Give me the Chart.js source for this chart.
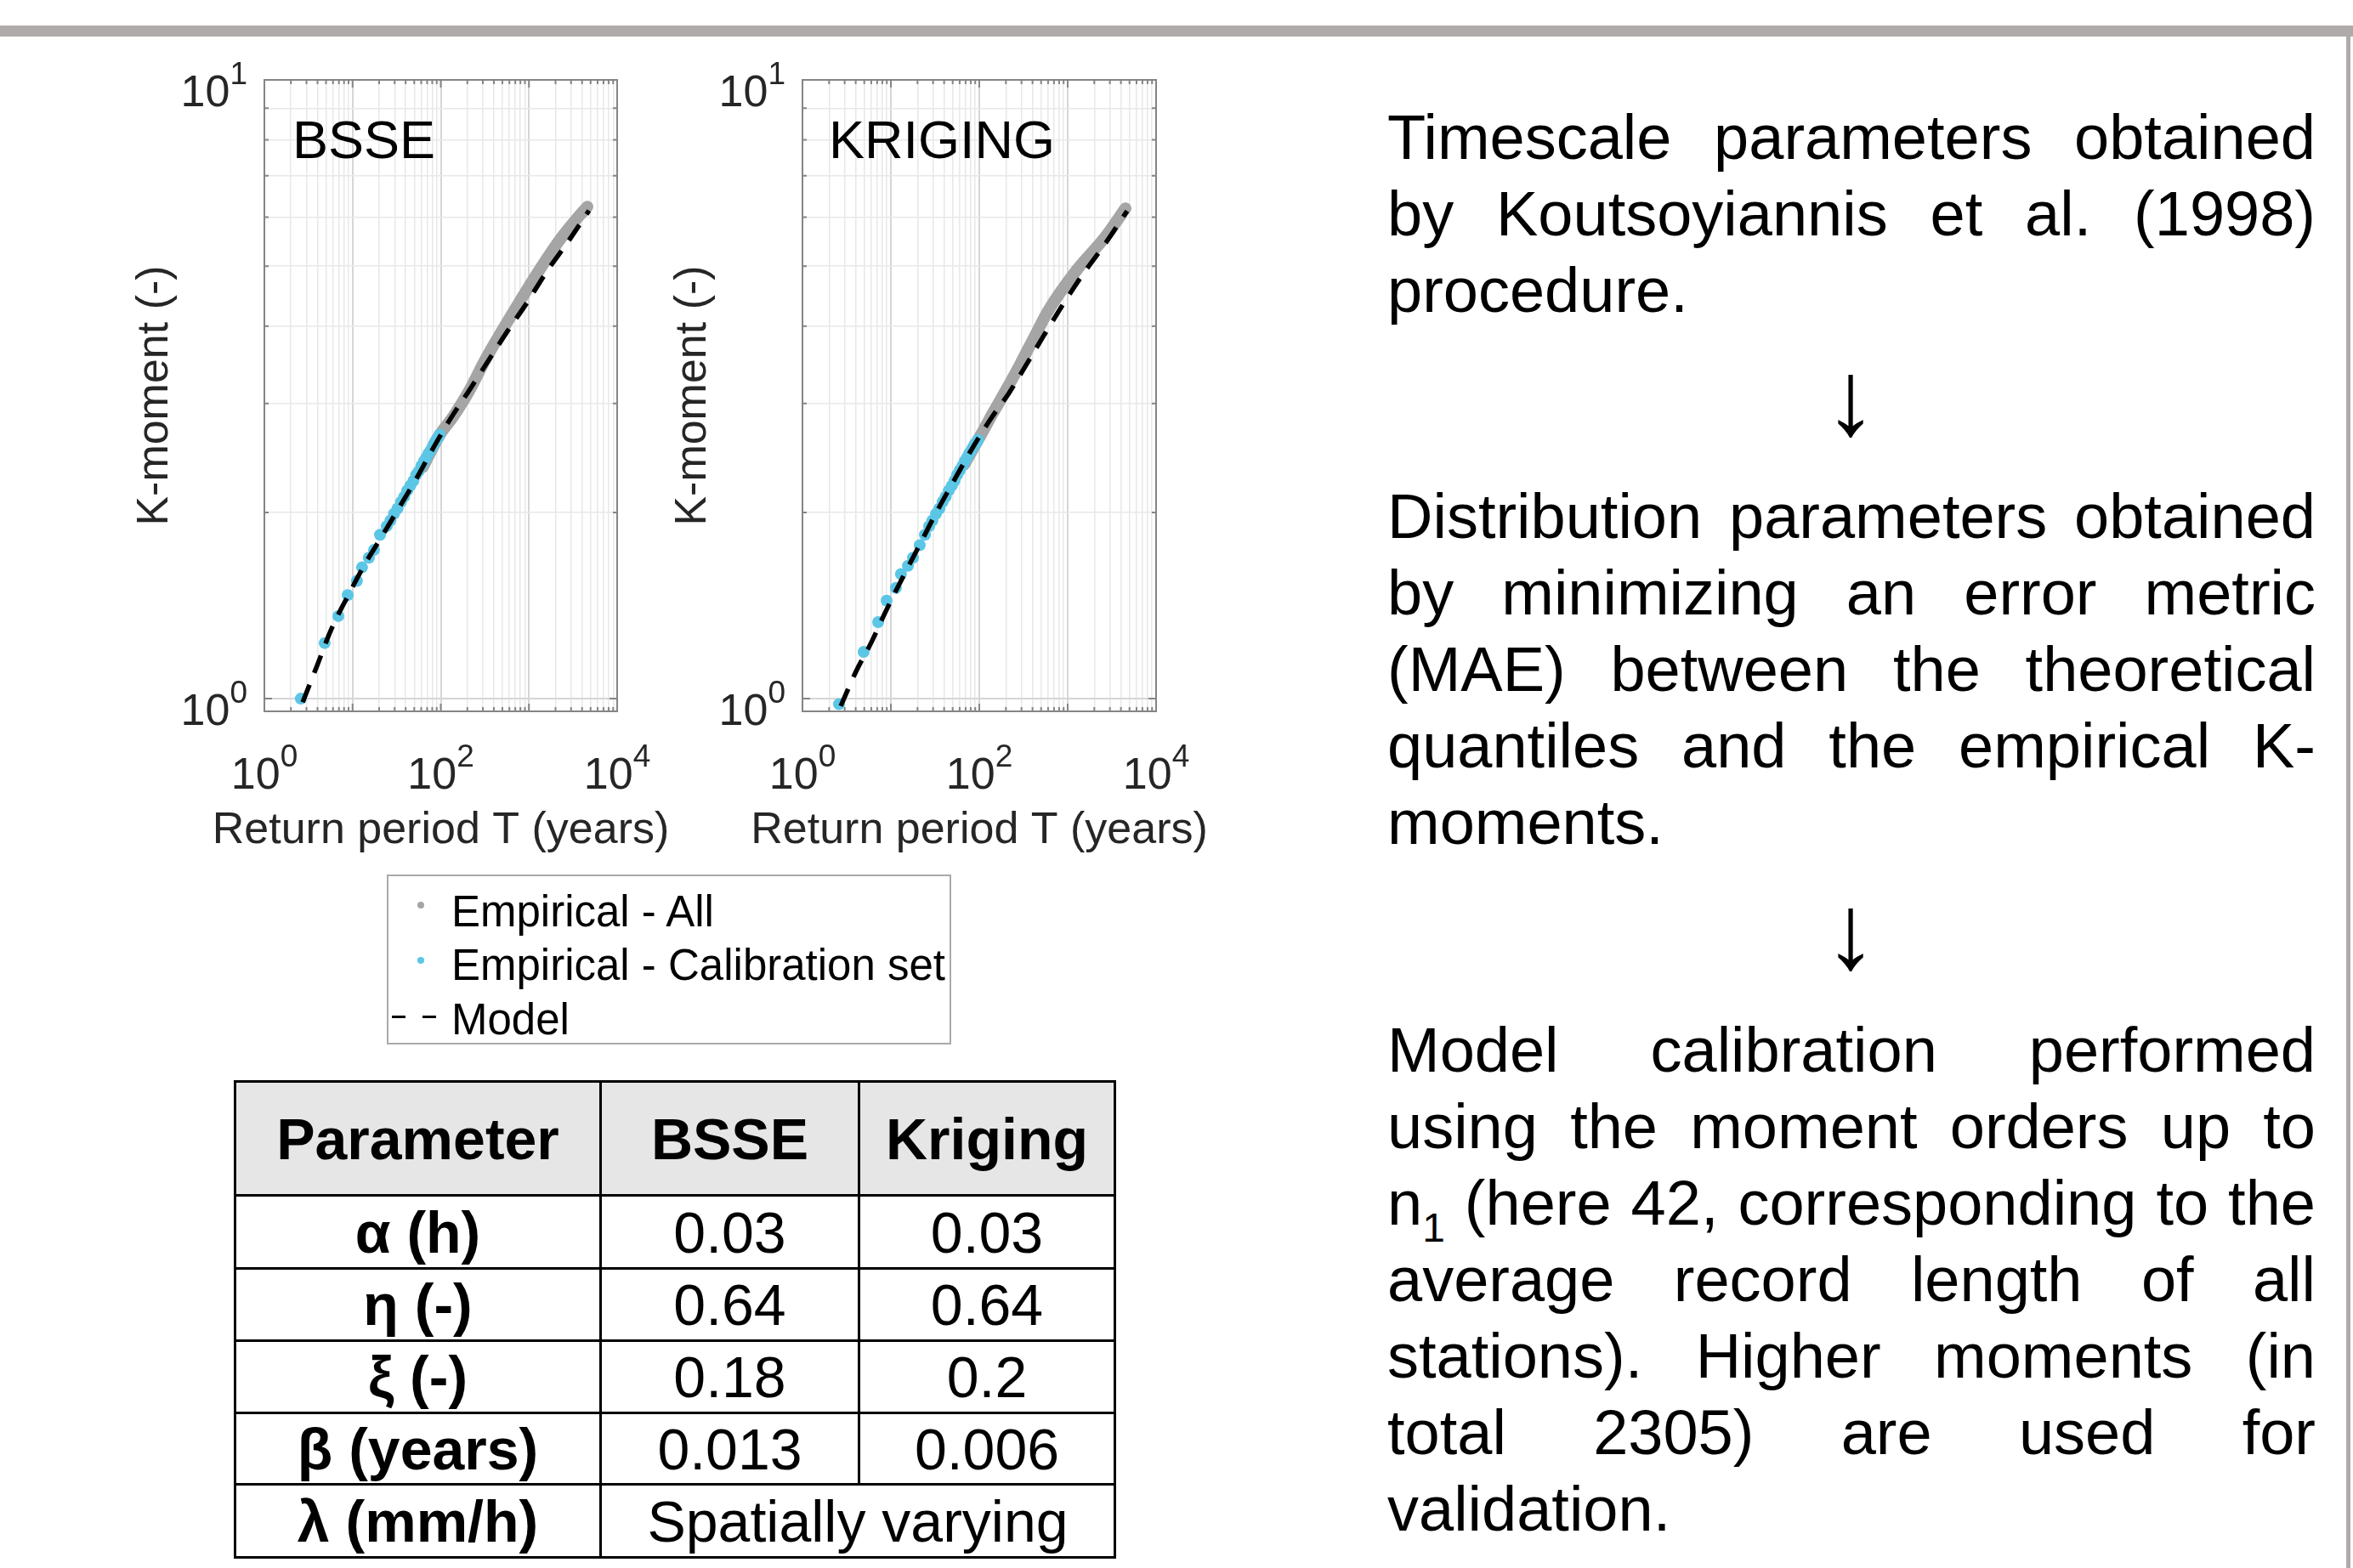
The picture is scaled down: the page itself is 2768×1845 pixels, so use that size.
<!DOCTYPE html>
<html>
<head>
<meta charset="utf-8">
<script src="https://cdn.jsdelivr.net/npm/chart.js@4.4.1/dist/chart.umd.min.js"></script>
<style>
  html, body { margin: 0; padding: 0; background: #fff; }
  body { width: 2768px; height: 1845px; position: relative; overflow: hidden; font-family: "Liberation Sans", Arial, sans-serif; color: #000; }
  .bar { position: absolute; left: 0; top: 30px; width: 2768px; height: 13px; background: #afabab; }
  .vline { position: absolute; left: 2760px; top: 43px; width: 5px; height: 1802px; background: #afabab; }
  canvas { position: absolute; }
  #legend { position: absolute; left: 455px; top: 1029px; width: 664px; height: 200px; box-sizing: border-box; border: 2px solid #aaaaaa; background: #fff; }
  #legend .txt { position: absolute; left: 74px; font-size: 51px; line-height: 50px; white-space: nowrap; }
  #legend .dot { position: absolute; width: 8px; height: 8px; border-radius: 50%; }
  #legend .dash { position: absolute; width: 16px; height: 3px; background: #000; }
  #params { position: absolute; left: 275px; top: 1271px; width: 1035px; border-collapse: collapse; table-layout: fixed; font-size: 68px; }
  #params td, #params th { border: 3px solid #000; padding: 0; text-align: center; vertical-align: middle; line-height: 1; white-space: nowrap; }
  #params th { font-weight: bold; }
  #params tr.head th { background: #e7e6e6; }
  .para { position: absolute; left: 1632px; width: 1092px; font-size: 74px; }
  .para div { height: 90px; line-height: 90px; white-space: nowrap; }
  .para div.j { text-align: justify; text-align-last: justify; white-space: normal; }
  .para sub { font-size: 48px; vertical-align: baseline; position: relative; top: 20px; }
  .arrow { position: absolute; left: 2027px; width: 300px; text-align: center; font-size: 125px; line-height: 125px; }
</style>
</head>
<body>
<div class="bar"></div>
<div class="vline"></div>

<canvas id="bsse" width="690" height="960" style="left:130px; top:60px;"></canvas>
<canvas id="krig" width="660" height="960" style="left:780px; top:60px;"></canvas>

<div id="legend">
  <div class="dot" style="left:34px; top:30px; background:#a5a5a5;"></div>
  <div class="txt" style="top:17px;">Empirical - All</div>
  <div class="dot" style="left:34px; top:95px; background:#5cc6e6;"></div>
  <div class="txt" style="top:80px;">Empirical - Calibration set</div>
  <div class="dash" style="left:4px; top:164px;"></div>
  <div class="dash" style="left:40px; top:164px;"></div>
  <div class="txt" style="top:144px;">Model</div>
</div>

<table id="params"></table>

<div class="para" style="top:117px;">
  <div class="j">Timescale parameters obtained</div>
  <div class="j">by Koutsoyiannis et al. (1998)</div>
  <div>procedure.</div>
</div>
<div class="arrow" style="top:405px;">↓</div>
<div class="para" style="top:563px;">
  <div class="j">Distribution parameters obtained</div>
  <div class="j">by minimizing an error metric</div>
  <div class="j">(MAE) between the theoretical</div>
  <div class="j">quantiles and the empirical K-</div>
  <div>moments.</div>
</div>
<div class="arrow" style="top:1033px;">↓</div>
<div class="para" style="top:1191px;">
  <div class="j">Model calibration performed</div>
  <div class="j">using the moment orders up to</div>
  <div class="j">n<sub>1</sub> (here 42, corresponding to the</div>
  <div class="j">average record length of all</div>
  <div class="j">stations). Higher moments (in</div>
  <div class="j">total 2305) are used for</div>
  <div>validation.</div>
</div>

<script>
// axis ranges and ticks
const xMin = 1, xMax = 10000;
const yMin = 0.954, yMax = 10;
const xDecades = [1, 10, 100, 1000];
const yDecades = [1];
const minorMults = [1, 2, 3, 4, 5, 6, 7, 8, 9];
const xLabelVals = [1, 100, 10000];
const xLabelExps = ['0', '2', '4'];
const yLabelVals = [1, 10];
const yLabelExps = ['0', '1'];
const xTitle = 'Return period T (years)';
const yTitle = 'K-moment (-)';

// BSSE: empirical K-moments (all), calibration set and model
const bsseAllT = [63, 96, 139, 209, 313, 489, 791, 1279, 2312, 3606, 4600];
const bsseAllK = [2.37, 2.66, 2.86, 3.14, 3.51, 3.92, 4.39, 4.90, 5.55, 6.00, 6.24];
const bsseCalT = [2.59, 4.83, 6.90, 8.81, 11.2, 12.8, 15.3, 17.5, 20.5, 24.4, 26.9, 29.5, 32.4, 35.5, 38.5, 41.7, 45.2, 49.0, 52.5, 56.2, 60.3, 64.6, 68.4, 72.4, 76.7, 81.3, 85.1, 89.1, 93.3, 96.6];
const bsseCalK = [1.00, 1.23, 1.36, 1.47, 1.55, 1.63, 1.69, 1.74, 1.84, 1.90, 1.94, 1.99, 2.03, 2.08, 2.12, 2.17, 2.21, 2.25, 2.30, 2.33, 2.38, 2.42, 2.45, 2.49, 2.52, 2.56, 2.59, 2.62, 2.64, 2.67];
const bsseModelT = [2.72, 3.96, 5.77, 9.0, 14.0, 21.9, 34.1, 53.1, 82.8, 129, 201, 335, 571, 951, 1585, 2698, 4800];
const bsseModelK = [0.987, 1.131, 1.297, 1.472, 1.656, 1.837, 2.042, 2.270, 2.547, 2.835, 3.119, 3.491, 3.926, 4.365, 4.898, 5.445, 6.15];

// KRIGING
const krigAllT = [67.6, 103, 138, 200, 290, 419, 605, 1268, 2649, 4508];
const krigAllK = [2.39, 2.66, 2.87, 3.15, 3.47, 3.84, 4.24, 4.93, 5.57, 6.20];
const krigCalT = [2.59, 4.92, 7.18, 8.95, 11.4, 13.0, 15.6, 17.8, 21.2, 24.3, 27.1, 29.5, 32.4, 35.5, 38.5, 41.7, 45.2, 49.0, 52.5, 56.2, 60.3, 64.6, 68.4, 72.4, 76.7, 81.3, 85.1, 89.1, 93.3, 96.6];
const krigCalK = [0.98, 1.19, 1.33, 1.44, 1.51, 1.59, 1.64, 1.69, 1.77, 1.84, 1.90, 1.94, 1.99, 2.03, 2.08, 2.12, 2.17, 2.21, 2.25, 2.30, 2.34, 2.38, 2.42, 2.45, 2.49, 2.52, 2.55, 2.58, 2.60, 2.62];
const krigModelT = [2.71, 4.04, 6.01, 8.75, 13.6, 21.2, 31.6, 49.2, 89.5, 139, 217, 338, 538, 875, 1455, 2649, 4700];
const krigModelK = [0.973, 1.107, 1.233, 1.384, 1.570, 1.774, 1.982, 2.223, 2.582, 2.851, 3.119, 3.459, 3.864, 4.325, 4.831, 5.433, 6.14];

// parameter table
const paramNames = ['α (h)', 'η (-)', 'ξ (-)', 'β (years)'];
const bsseParams = ['0.03', '0.64', '0.18', '0.013'];
const krigParams = ['0.03', '0.64', '0.2', '0.006'];
const rowHeights = [134, 86, 85, 85, 84, 86];

const table = document.getElementById('params');
let html = '<colgroup><col style="width:430px"><col style="width:304px"><col style="width:301px"></colgroup>';
html += '<tr class="head" style="height:' + rowHeights[0] + 'px"><th>Parameter</th><th>BSSE</th><th>Kriging</th></tr>';
paramNames.forEach((p, i) => {
  html += '<tr style="height:' + rowHeights[i + 1] + 'px"><th>' + p + '</th><td>' + bsseParams[i] + '</td><td>' + krigParams[i] + '</td></tr>';
});
html += '<tr style="height:' + rowHeights[5] + 'px"><th>λ (mm/h)</th><td colspan="2">Spatially varying</td></tr>';
table.innerHTML = html;

const xTickVals = [];
xDecades.forEach(d => minorMults.forEach(m => xTickVals.push(d * m)));
xTickVals.push(xMax);
const yTickVals = [];
yDecades.forEach(d => minorMults.forEach(m => yTickVals.push(d * m)));
yTickVals.push(yMax);

const isPow10 = v => Math.abs(Math.log10(v) - Math.round(Math.log10(v))) < 1e-9;
const zip = (a, b) => a.map((v, i) => ({ x: v, y: b[i] }));
const FONT = '"Liberation Sans", Arial, sans-serif';

function drawPow(ctx, x, y, exp, align) {
  ctx.font = '52px ' + FONT;
  const wb = ctx.measureText('10').width;
  ctx.font = '37px ' + FONT;
  const we = ctx.measureText(exp).width;
  const x0 = align === 'center' ? x - (wb + we) / 2 : x - wb - we;
  ctx.textAlign = 'left';
  ctx.font = '52px ' + FONT;
  ctx.fillText('10', x0, y);
  ctx.font = '37px ' + FONT;
  ctx.fillText(exp, x0 + wb, y - 26);
}

const frame = {
  id: 'frame',
  afterDatasetsDraw(chart, args, opts) {
    const { ctx, chartArea: a, scales: { x, y } } = chart;
    ctx.save();
    ctx.strokeStyle = '#858585';
    ctx.lineWidth = 2;
    ctx.strokeRect(a.left, a.top, a.right - a.left, a.bottom - a.top);
    ctx.beginPath();
    xTickVals.forEach(v => {
      const px = x.getPixelForValue(v);
      if (px <= a.left + 1 || px >= a.right - 1) return;
      const len = isPow10(v) ? 9 : 5;
      ctx.moveTo(px, a.bottom); ctx.lineTo(px, a.bottom - len);
      ctx.moveTo(px, a.top); ctx.lineTo(px, a.top + len);
    });
    yTickVals.forEach(v => {
      const py = y.getPixelForValue(v);
      if (py <= a.top + 1 || py >= a.bottom - 1) return;
      const len = isPow10(v) ? 9 : 5;
      ctx.moveTo(a.left, py); ctx.lineTo(a.left + len, py);
      ctx.moveTo(a.right, py); ctx.lineTo(a.right - len, py);
    });
    ctx.stroke();

    ctx.fillStyle = '#262626';
    ctx.textBaseline = 'alphabetic';
    xLabelVals.forEach((v, i) => drawPow(ctx, x.getPixelForValue(v), a.bottom + 91, xLabelExps[i], 'center'));
    yLabelVals.forEach((v, i) => drawPow(ctx, a.left - 20, y.getPixelForValue(v) + 31, yLabelExps[i], 'right'));

    ctx.font = '52px ' + FONT;
    ctx.textAlign = 'center';
    ctx.fillText(xTitle, (a.left + a.right) / 2, a.bottom + 155);
    ctx.save();
    ctx.translate(a.left - 114, (a.top + a.bottom) / 2);
    ctx.rotate(-Math.PI / 2);
    ctx.fillText(yTitle, 0, 0);
    ctx.restore();

    ctx.fillStyle = '#000';
    ctx.font = '63px ' + FONT;
    ctx.textAlign = 'left';
    ctx.fillText(opts.label, a.left + opts.labelDx, a.top + 92);
    ctx.restore();
  }
};

function makeChart(id, label, labelDx, padLeft, padRight, allT, allK, calT, calK, modelT, modelK) {
  return new Chart(document.getElementById(id), {
    type: 'scatter',
    data: {
      datasets: [
        {
          label: 'Model',
          data: zip(modelT, modelK),
          showLine: true,
          borderColor: '#000',
          borderWidth: 5.5,
          borderDash: [22, 15],
          pointRadius: 0,
          cubicInterpolationMode: 'monotone',
          order: 0
        },
        {
          label: 'Empirical - Calibration set',
          data: zip(calT, calK),
          backgroundColor: '#5cc6e6',
          borderWidth: 0,
          pointRadius: 7,
          order: 1
        },
        {
          label: 'Empirical - All',
          data: zip(allT, allK),
          showLine: true,
          borderColor: '#a5a5a5',
          borderWidth: 14,
          borderCapStyle: 'round',
          borderJoinStyle: 'round',
          pointRadius: 0,
          cubicInterpolationMode: 'monotone',
          order: 2
        }
      ]
    },
    options: {
      responsive: false,
      animation: false,
      devicePixelRatio: 1,
      layout: { padding: { left: padLeft, right: padRight, top: 34, bottom: 183 } },
      plugins: {
        legend: { display: false },
        tooltip: { enabled: false },
        frame: { label: label, labelDx: labelDx }
      },
      scales: {
        x: {
          type: 'logarithmic',
          min: xMin,
          max: xMax,
          afterBuildTicks: s => { s.ticks = xTickVals.map(v => ({ value: v, major: isPow10(v) })); },
          afterFit: s => { s.height = 0; },
          ticks: { display: false },
          border: { display: false },
          grid: {
            drawTicks: false,
            color: c => isPow10(c.tick.value) ? '#d6d6d6' : '#e8e8e8',
            lineWidth: c => isPow10(c.tick.value) ? 2 : 1.5
          }
        },
        y: {
          type: 'logarithmic',
          min: yMin,
          max: yMax,
          afterBuildTicks: s => { s.ticks = yTickVals.map(v => ({ value: v, major: isPow10(v) })); },
          afterFit: s => { s.width = 0; },
          ticks: { display: false },
          border: { display: false },
          grid: {
            drawTicks: false,
            color: c => isPow10(c.tick.value) ? '#d6d6d6' : '#e8e8e8',
            lineWidth: c => isPow10(c.tick.value) ? 2 : 1.5
          }
        }
      }
    },
    plugins: [frame]
  });
}

makeChart('bsse', 'BSSE', 33, 181, 94, bsseAllT, bsseAllK, bsseCalT, bsseCalK, bsseModelT, bsseModelK);
makeChart('krig', 'KRIGING', 31, 164, 80, krigAllT, krigAllK, krigCalT, krigCalK, krigModelT, krigModelK);
</script>
</body>
</html>
